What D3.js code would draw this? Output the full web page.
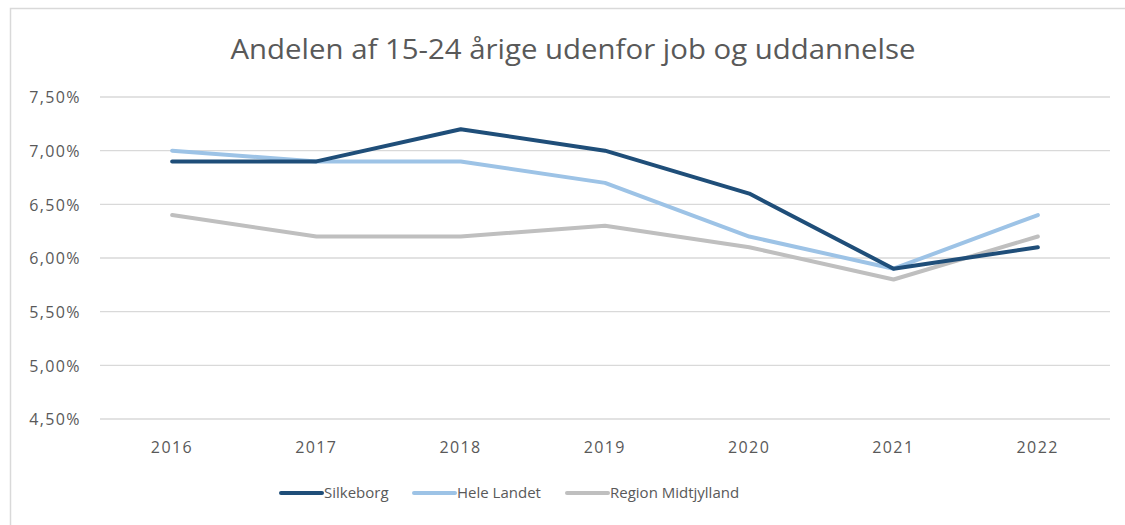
<!DOCTYPE html>
<html>
<head>
<meta charset="utf-8">
<script src="https://cdn.jsdelivr.net/npm/d3@7"></script>
<style>
  body { margin: 0; background: #fff; }
  svg { display: block; font-family: "Open Sans", "DejaVu Sans", sans-serif; }
</style>
</head>
<body>
<div id="chart"></div>
<script>
const years = ['2016', '2017', '2018', '2019', '2020', '2021', '2022']
const silkeborg = [6.9, 6.9, 7.2, 7.0, 6.6, 5.9, 6.1]
const heleLandet = [7.0, 6.9, 6.9, 6.7, 6.2, 5.9, 6.4]
const regionMidt = [6.4, 6.2, 6.2, 6.3, 6.1, 5.8, 6.2]
const yTicks = [4.5, 5.0, 5.5, 6.0, 6.5, 7.0, 7.5]
const seriesNames = ['Silkeborg', 'Hele Landet', 'Region Midtjylland']
const seriesColors = ['#1f4e79', '#9dc3e6', '#bfbfbf']

const width = 1125, height = 525
const plot = {left: 100, right: 1110, top: 97, bottom: 419}
const font = '"Open Sans", "DejaVu Sans", sans-serif'

const svg = d3.select('#chart').append('svg')
  .attr('width', width)
  .attr('height', height)

// chart frame (runs off the right and bottom edge)
svg.append('rect')
  .attr('x', 10.5).attr('y', 8.5)
  .attr('width', 1130).attr('height', 540)
  .attr('fill', '#fff')
  .attr('stroke', '#d9d9d9')
  .attr('stroke-width', 1.5)

const x = d3.scalePoint()
  .domain(years)
  .range([plot.left, plot.right])
  .padding(0.5)

const y = d3.scaleLinear()
  .domain([4.5, 7.5])
  .range([plot.bottom, plot.top])

const fmt = v => d3.format('.2f')(v).replace('.', ',') + '%'

// gridlines
svg.append('g')
  .selectAll('line')
  .data(yTicks)
  .join('line')
    .attr('x1', plot.left).attr('x2', plot.right)
    .attr('y1', d => y(d)).attr('y2', d => y(d))
    .attr('stroke', '#d9d9d9')
    .attr('stroke-width', 1.3)

// y axis labels
const yAxis = svg.append('g')
  .attr('transform', `translate(${plot.left - 16},0)`)
  .call(d3.axisLeft(y).tickValues(yTicks).tickFormat(fmt).tickSize(0))
  .attr('font-family', font)
  .attr('font-size', 16)
yAxis.select('.domain').remove()
yAxis.selectAll('text')
  .attr('fill', '#595959')
  .attr('dy', '0.36em')
  .style('letter-spacing', '1.4px')

// x axis labels
const xAxis = svg.append('g')
  .attr('transform', `translate(0,${plot.bottom + 20})`)
  .call(d3.axisBottom(x).tickSize(0))
  .attr('font-family', font)
  .attr('font-size', 16)
xAxis.select('.domain').remove()
xAxis.selectAll('text')
  .attr('fill', '#595959')
  .attr('dx', -0.7)
  .style('letter-spacing', '1.4px')

// lines
const series = [silkeborg, heleLandet, regionMidt]
const line = d3.line()
  .x((d, i) => x(years[i]))
  .y(d => y(d))

// draw grey first, then light blue, then dark blue on top
svg.append('g')
  .selectAll('path')
  .data([2, 1, 0])
  .join('path')
    .attr('d', k => line(series[k]))
    .attr('fill', 'none')
    .attr('stroke', k => seriesColors[k])
    .attr('stroke-width', 4)
    .attr('stroke-linejoin', 'round')
    .attr('stroke-linecap', 'round')

// title
svg.append('text')
  .attr('x', 573).attr('y', 59)
  .attr('text-anchor', 'middle')
  .attr('fill', '#595959')
  .style('font-size', '28px')
  .attr('textLength', 685)
  .attr('lengthAdjust', 'spacingAndGlyphs')
  .text('Andelen af 15-24 årige udenfor job og uddannelse')

// legend
const legendX = [281, 414, 567]
const legend = svg.append('g')
  .selectAll('g')
  .data(seriesNames)
  .join('g')
    .attr('transform', (d, i) => `translate(${legendX[i]},493)`)
legend.append('line')
  .attr('x1', 0).attr('x2', 41)
  .attr('stroke', (d, i) => seriesColors[i])
  .attr('stroke-width', 4)
  .attr('stroke-linecap', 'round')
legend.append('text')
  .attr('x', 43).attr('dy', '0.35em')
  .attr('fill', '#595959')
  .style('font-size', '15px')
  .text(d => d)
</script>
</body>
</html>
